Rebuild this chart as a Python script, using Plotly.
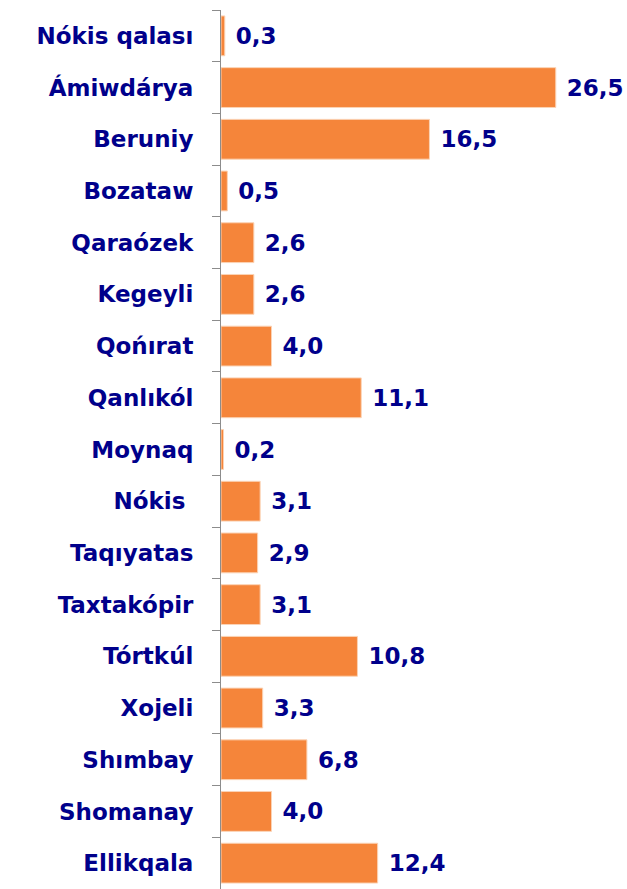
import plotly.graph_objects as go

districts = ["Nókis qalası", "Ámiwdárya", "Beruniy", "Bozataw", "Qaraózek", "Kegeyli",
             "Qońırat", "Qanlıkól", "Moynaq", "Nókis\u00a0", "Taqıyatas", "Taxtakópir",
             "Tórtkúl", "Xojeli", "Shımbay", "Shomanay", "Ellikqala"]
values = [0.3, 26.5, 16.5, 0.5, 2.6, 2.6, 4.0, 11.1, 0.2, 3.1, 2.9, 3.1, 10.8, 3.3, 6.8, 4.0, 12.4]
labels = [f"{v:.1f}".replace(".", ",") for v in values]

navy = "#00008B"
fam = "DejaVu Sans, Liberation Sans, Arial, sans-serif"

fig = go.Figure(go.Bar(
    x=values, y=districts, orientation="h",
    marker=dict(color="#F5853A", line=dict(color="#FBD3B5", width=1)),
    text=labels,
    texttemplate="\u00a0%{text}",
    textposition="outside",
    cliponaxis=False,
    textfont=dict(family=fam, size=23, color=navy, weight="bold"),
    width=0.77,
    hoverinfo="skip",
))

fig.update_layout(
    width=627, height=889,
    margin=dict(l=221, r=27, t=10, b=0),
    paper_bgcolor="white", plot_bgcolor="white",
    showlegend=False,
    uniformtext=dict(mode=False),
    font=dict(family=fam),
)
fig.update_xaxes(range=[0, 30], visible=False, showgrid=False, zeroline=False)
fig.update_yaxes(
    autorange="reversed", automargin=False,
    showline=True, linecolor="#8C8C8C", linewidth=1,
    ticks="outside", tickson="boundaries", ticklen=8, tickcolor="#8C8C8C", tickwidth=1,
    showgrid=False,
    ticklabelstandoff=22,
    tickfont=dict(family=fam, size=23, color=navy, weight="bold"),
)

fig.write_html(
    "out.html",
    config={"displayModeBar": False},
    post_script="document.body.style.margin='0';document.body.style.overflow='hidden';",
)
